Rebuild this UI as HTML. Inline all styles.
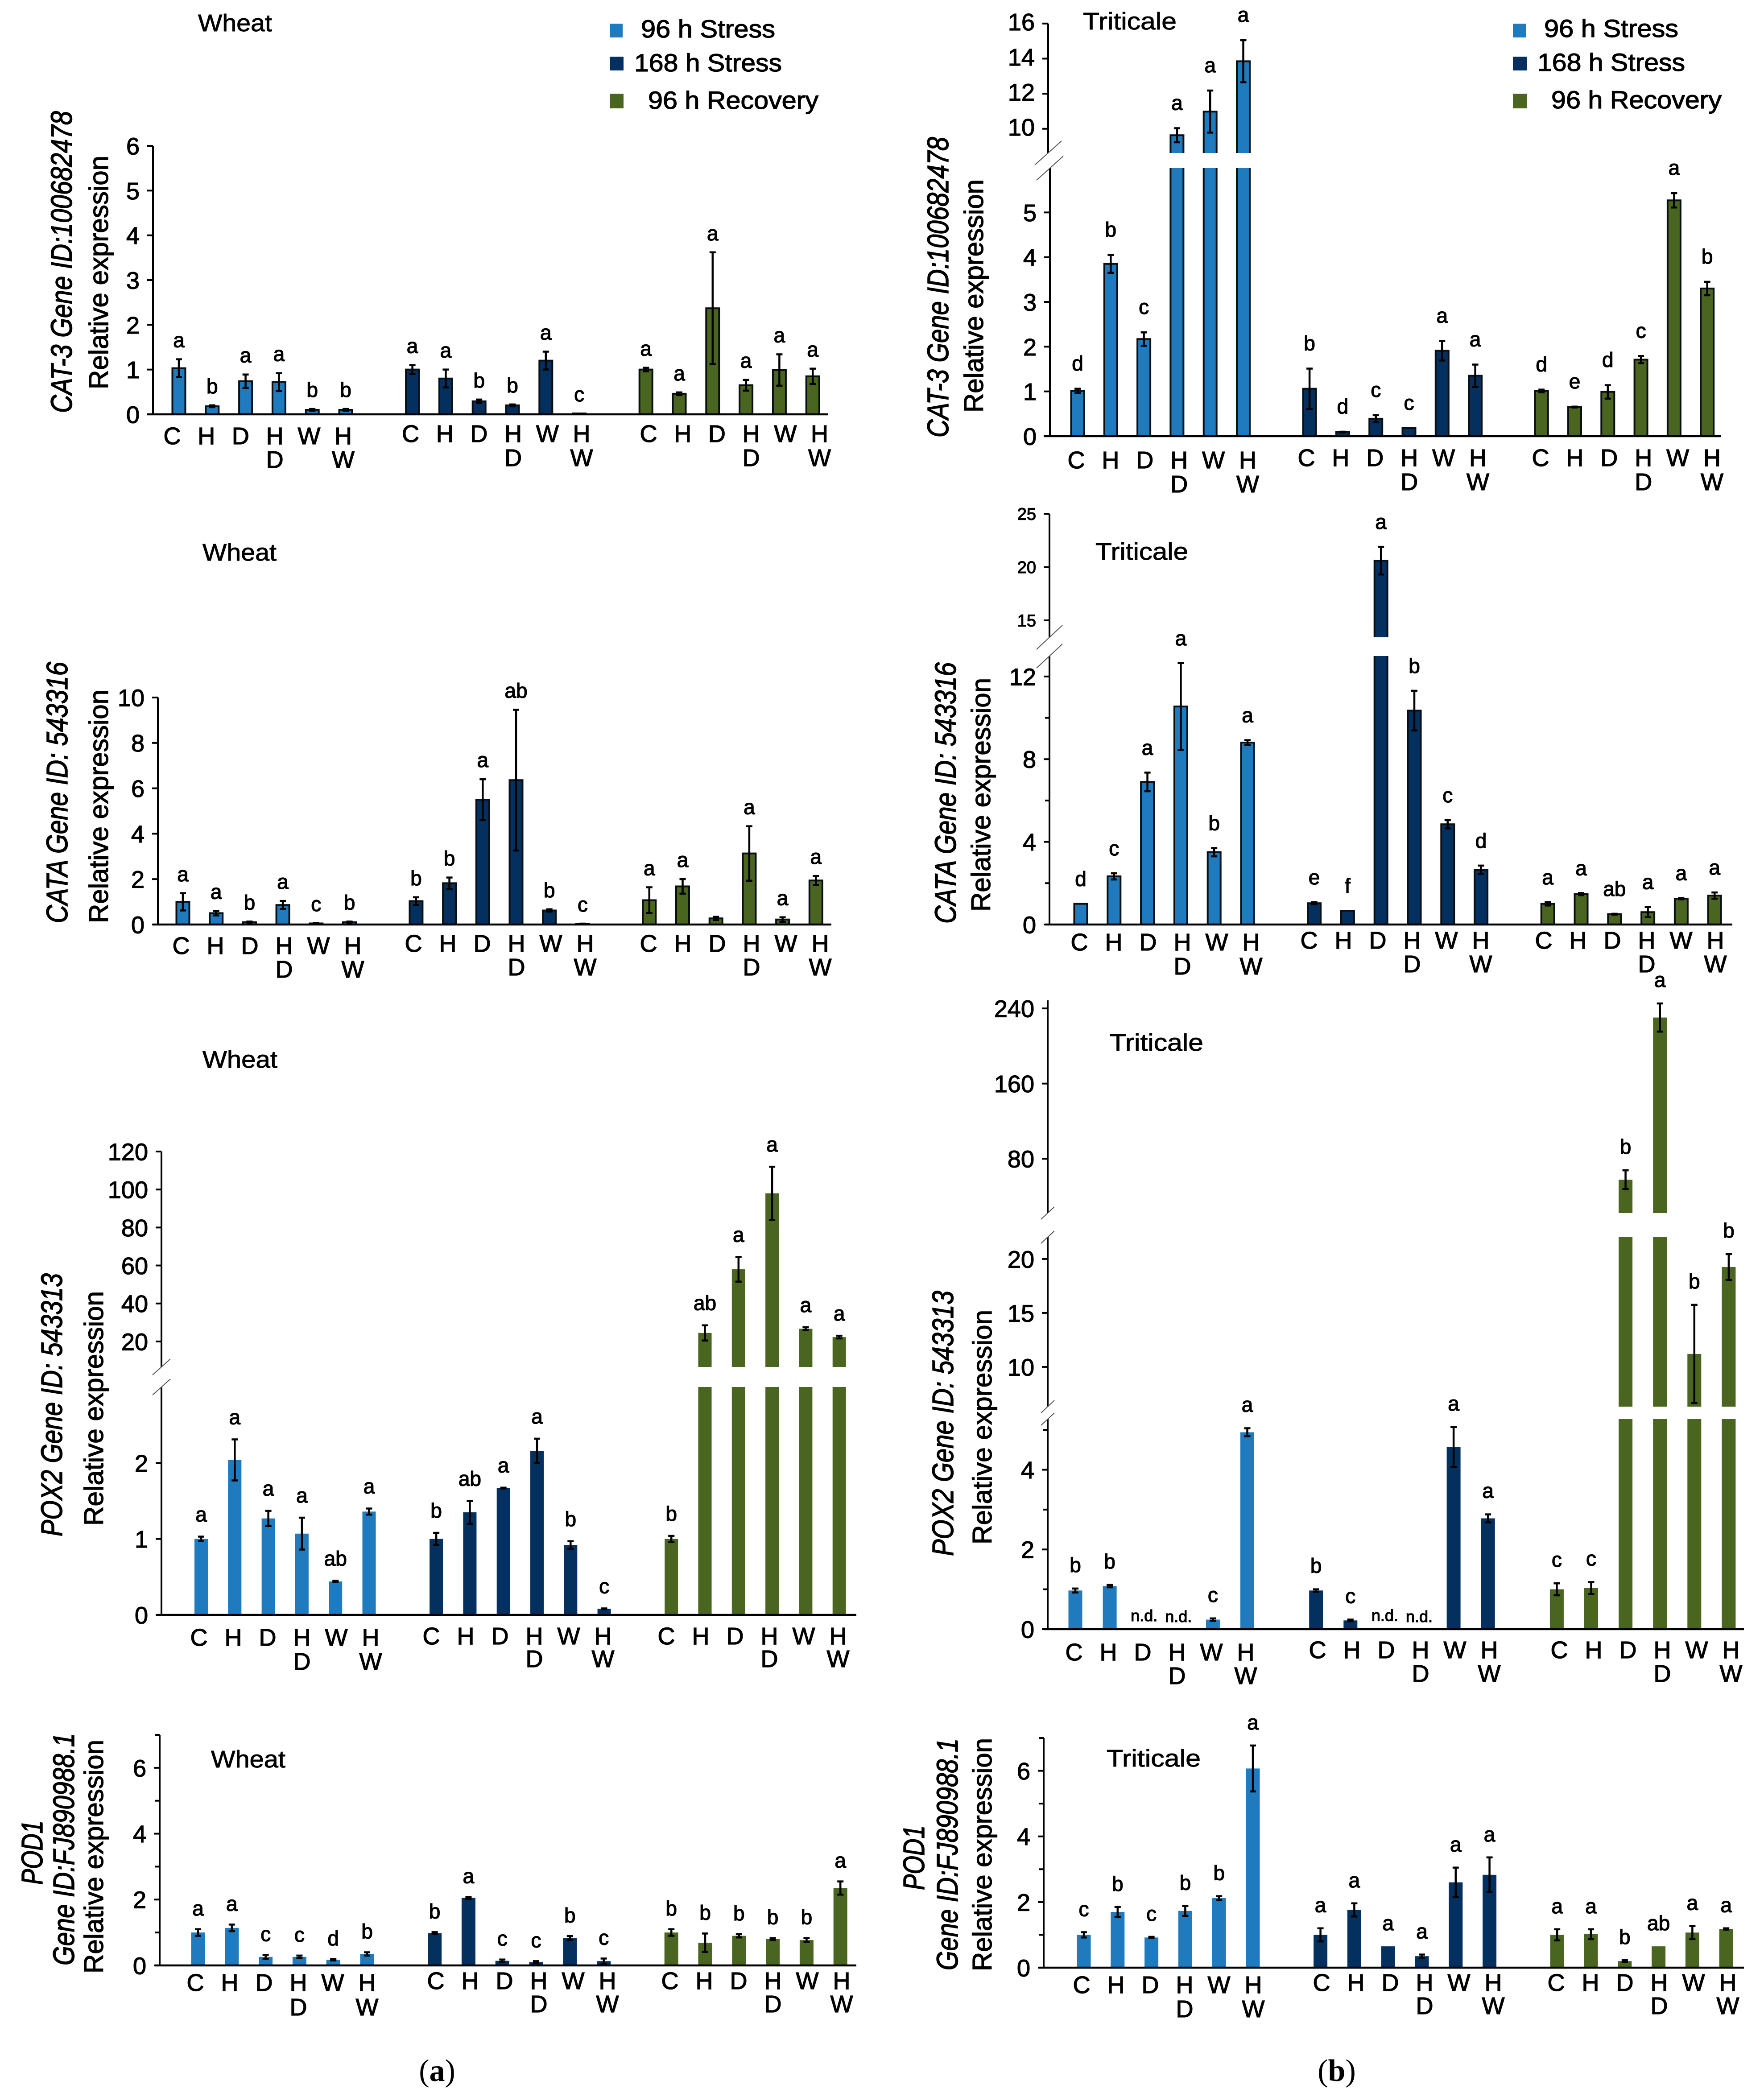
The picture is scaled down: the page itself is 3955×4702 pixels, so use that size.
<!DOCTYPE html>
<html lang="en">
<head>
<meta charset="utf-8">
<title>Relative gene expression in wheat and triticale</title>
<style>
html,body{margin:0;padding:0;background:#fff;}
svg{display:block;}
text{font-family:"Liberation Sans",sans-serif;fill:#000;stroke:#000;stroke-width:1.3px;}
.serif{font-family:"Liberation Serif",serif;stroke:none;}
.gene{font-style:italic;font-size:56px;}
.rel{font-size:60px;}
.title{font-size:54px;stroke-width:.9px;}
.legend{font-size:56px;}
</style>
</head>
<body>
<svg id="chart" xmlns="http://www.w3.org/2000/svg" width="3955" height="4702" viewBox="0 0 3955 4702">
<rect x="0" y="0" width="3955" height="4702" fill="#ffffff"/>

<text class="title" x="444" y="70" textLength="166" lengthAdjust="spacingAndGlyphs">Wheat</text>
<text class="title" x="2428" y="66" textLength="210" lengthAdjust="spacingAndGlyphs">Triticale</text>
<text class="title" x="454" y="1257" textLength="166" lengthAdjust="spacingAndGlyphs">Wheat</text>
<text class="title" x="2456" y="1255" textLength="208" lengthAdjust="spacingAndGlyphs">Triticale</text>
<text class="title" x="454" y="2394" textLength="168" lengthAdjust="spacingAndGlyphs">Wheat</text>
<text class="title" x="2488" y="2356" textLength="210" lengthAdjust="spacingAndGlyphs">Triticale</text>
<text class="title" x="473" y="3963" textLength="167" lengthAdjust="spacingAndGlyphs">Wheat</text>
<text class="title" x="2481" y="3961" textLength="211" lengthAdjust="spacingAndGlyphs">Triticale</text>

<g>
  <rect x="1367" y="53" width="29" height="31" fill="#1f7bbd"/>
  <text class="legend" x="1437" y="84" textLength="301" lengthAdjust="spacingAndGlyphs">96 h Stress</text>
  <rect x="1367" y="127" width="31" height="31" fill="#04305f"/>
  <text class="legend" x="1422" y="160" textLength="331" lengthAdjust="spacingAndGlyphs">168 h Stress</text>
  <rect x="1367" y="210" width="31" height="33" fill="#4a651f"/>
  <text class="legend" x="1453" y="244" textLength="382" lengthAdjust="spacingAndGlyphs">96 h Recovery</text>
</g>
<g>
  <rect x="3392" y="53" width="29" height="31" fill="#1f7bbd"/>
  <text class="legend" x="3462" y="83" textLength="301" lengthAdjust="spacingAndGlyphs">96 h Stress</text>
  <rect x="3392" y="127" width="31" height="31" fill="#04305f"/>
  <text class="legend" x="3447" y="159" textLength="331" lengthAdjust="spacingAndGlyphs">168 h Stress</text>
  <rect x="3392" y="210" width="31" height="33" fill="#4a651f"/>
  <text class="legend" x="3478" y="243" textLength="382" lengthAdjust="spacingAndGlyphs">96 h Recovery</text>
</g>

<text class="gene" transform="translate(161 926) rotate(-90) scale(1 1.2)" textLength="677" lengthAdjust="spacingAndGlyphs">CAT-3 Gene ID:100682478</text>
<text class="rel" transform="translate(242 873) rotate(-90)" textLength="524" lengthAdjust="spacingAndGlyphs">Relative expression</text>
<text class="gene" transform="translate(2126 981) rotate(-90) scale(1 1.2)" textLength="674" lengthAdjust="spacingAndGlyphs">CAT-3 Gene ID:100682478</text>
<text class="rel" transform="translate(2204 925) rotate(-90)" textLength="523" lengthAdjust="spacingAndGlyphs">Relative expression</text>

<text class="gene" transform="translate(151 2070) rotate(-90) scale(1 1.2)" textLength="586" lengthAdjust="spacingAndGlyphs">CATA Gene ID: 543316</text>
<text class="rel" transform="translate(242 2070) rotate(-90)" textLength="524" lengthAdjust="spacingAndGlyphs">Relative expression</text>
<text class="gene" transform="translate(2143 2071) rotate(-90) scale(1 1.2)" textLength="586" lengthAdjust="spacingAndGlyphs">CATA Gene ID: 543316</text>
<text class="rel" transform="translate(2220 2044) rotate(-90)" textLength="524" lengthAdjust="spacingAndGlyphs">Relative expression</text>

<text class="gene" transform="translate(139 3445) rotate(-90) scale(1 1.2)" textLength="590" lengthAdjust="spacingAndGlyphs">POX2 Gene ID: 543313</text>
<text class="rel" transform="translate(231 3421) rotate(-90)" textLength="526" lengthAdjust="spacingAndGlyphs">Relative expression</text>
<text class="gene" transform="translate(2137 3489) rotate(-90) scale(1 1.2)" textLength="595" lengthAdjust="spacingAndGlyphs">POX2 Gene ID: 543313</text>
<text class="rel" transform="translate(2223 3463) rotate(-90)" textLength="526" lengthAdjust="spacingAndGlyphs">Relative expression</text>

<text class="gene" transform="translate(95 4226) rotate(-90) scale(1 1.2)" textLength="144" lengthAdjust="spacingAndGlyphs">POD1</text>
<text class="gene" transform="translate(166 4407) rotate(-90) scale(1 1.2)" textLength="521" lengthAdjust="spacingAndGlyphs">Gene ID:FJ890988.1</text>
<text class="rel" transform="translate(231 4425) rotate(-90)" textLength="524" lengthAdjust="spacingAndGlyphs">Relative expression</text>
<text class="gene" transform="translate(2072 4238) rotate(-90) scale(1 1.2)" textLength="145" lengthAdjust="spacingAndGlyphs">POD1</text>
<text class="gene" transform="translate(2147 4418) rotate(-90) scale(1 1.2)" textLength="520" lengthAdjust="spacingAndGlyphs">Gene ID:FJ890988.1</text>
<text class="rel" transform="translate(2223 4420) rotate(-90)" textLength="523" lengthAdjust="spacingAndGlyphs">Relative expression</text>

<text class="serif" x="980" y="4666" font-size="70" text-anchor="middle">(<tspan font-weight="bold">a</tspan>)</text>
<text class="serif" x="2997" y="4666" font-size="70" text-anchor="middle">(<tspan font-weight="bold">b</tspan>)</text>
</svg>

<script>
// Shared categories and series
const categories = ['C', 'H', 'D', 'HD', 'W', 'HW'];
const seriesNames = ['96 h Stress', '168 h Stress', '96 h Recovery'];

// CAT-3 wheat
const cat3WheatValues = [1.03,0.18,0.74,0.72,0.10,0.10, 1.00,0.80,0.29,0.20,1.20,0.02, 1.00,0.46,2.37,0.65,0.99,0.85];
const cat3WheatErrors = [0.20,0.02,0.15,0.20,0.02,0.02, 0.10,0.20,0.04,0.02,0.20,0.00, 0.04,0.03,1.25,0.12,0.35,0.17];
const cat3WheatLetters = ['a','b','a','a','b','b', 'a','a','b','b','a','c', 'a','a','a','a','a','a'];
const cat3WheatTicks = [0,1,2,3,4,5,6];
const cat3WheatMinor = [];

// CAT-3 triticale
const cat3TriticaleValues = [1.01,3.85,2.17,9.63,10.98,13.85, 1.06,0.09,0.39,0.18,1.91,1.35, 1.01,0.65,0.99,1.71,5.27,3.30];
const cat3TriticaleErrors = [0.05,0.20,0.15,0.40,1.20,1.20, 0.45,0.01,0.08,0.00,0.22,0.25, 0.03,0.01,0.15,0.08,0.16,0.15];
const cat3TriticaleLetters = ['d','b','c','a','a','a', 'b','d','c','c','a','a', 'd','e','d','c','a','b'];
const cat3TriticaleTicks = [0,1,2,3,4,5,10,12,14,16];
const cat3TriticaleMinor = [];

// CATA wheat
const cataWheatValues = [1.00,0.50,0.10,0.86,0.05,0.10, 1.03,1.82,5.50,6.36,0.62,0.03, 1.07,1.68,0.27,3.13,0.22,1.94];
const cataWheatErrors = [0.38,0.10,0.03,0.18,0.01,0.03, 0.17,0.25,0.90,3.10,0.05,0.01, 0.57,0.32,0.07,1.20,0.10,0.20];
const cataWheatLetters = ['a','a','b','a','c','b', 'b','b','a','ab','b','c', 'a','a','','a','a','a'];
const cataWheatTicks = [0,2,4,6,8,10];
const cataWheatMinor = [];

// CATA triticale
const cataTriticaleValues = [1.00,2.33,6.90,10.55,3.50,8.80, 1.03,0.67,20.60,10.35,4.85,2.65, 1.00,1.47,0.50,0.60,1.25,1.40];
const cataTriticaleErrors = [0.00,0.15,0.45,2.10,0.20,0.12, 0.05,0.00,1.30,0.96,0.20,0.20, 0.08,0.05,0.02,0.25,0.03,0.15];
const cataTriticaleLetters = ['d','c','a','a','b','a', 'e','f','a','b','c','d', 'a','a','ab','a','a','a'];
const cataTriticaleTicks = [0,4,8,12,15,20,25];
const cataTriticaleMinor = [2,6,10];

// POX2 wheat
const pox2WheatValues = [1.00,2.04,1.27,1.07,0.44,1.36, 1.00,1.35,1.67,2.16,0.92,0.08, 1.00,24.5,58.0,98.0,26.7,22.3];
const pox2WheatErrors = [0.03,0.27,0.10,0.21,0.01,0.04, 0.08,0.15,0.005,0.16,0.05,0.005, 0.04,4.0,6.5,14.0,0.8,0.7];
const pox2WheatLetters = ['a','a','a','a','ab','a', 'b','ab','a','a','b','c', 'b','ab','a','a','a','a'];
const pox2WheatTicks = [0,1,2,20,40,60,80,100,120];
const pox2WheatMinor = [];

// POX2 triticale
const pox2TriticaleValues = [0.97,1.08,0.02,0,0.24,4.94, 0.97,0.22,0.03,0,4.57,2.78, 1.00,1.03,57.7,230.3,11.2,19.25];
const pox2TriticaleErrors = [0.05,0.03,0,0,0.03,0.10, 0.03,0.02,0,0,0.50,0.10, 0.15,0.15,10.0,15.0,4.55,1.20];
const pox2TriticaleLetters = ['b','b','n.d.','n.d.','c','a', 'b','c','n.d.','n.d.','a','a', 'c','c','b','a','b','b'];
const pox2TriticaleTicks = [0,2,4,10,15,20,80,160,240];
const pox2TriticaleMinor = [1,3,5];

// POD1 wheat
const pod1WheatValues = [1.00,1.14,0.26,0.26,0.17,0.35, 0.98,2.05,0.14,0.10,0.83,0.13, 1.00,0.69,0.90,0.80,0.77,2.35];
const pod1WheatErrors = [0.10,0.10,0.06,0.04,0.02,0.05, 0.03,0.03,0.04,0.03,0.06,0.08, 0.10,0.28,0.05,0.03,0.06,0.20];
const pod1WheatLetters = ['a','a','c','c','d','b', 'b','a','c','c','b','c', 'b','b','b','b','b','a'];
const pod1WheatTicks = [0,2,4,6];
const pod1WheatMinor = [1,3,5,7];

// POD1 triticale
const pod1TriticaleValues = [1.00,1.70,0.92,1.73,2.12,6.07, 1.00,1.76,0.65,0.35,2.60,2.83, 1.00,1.02,0.20,0.65,1.07,1.18];
const pod1TriticaleErrors = [0.08,0.15,0.02,0.15,0.06,0.70, 0.20,0.20,0.00,0.05,0.45,0.53, 0.17,0.15,0.03,0.00,0.20,0.02];
const pod1TriticaleLetters = ['c','b','c','b','b','a', 'a','a','a','a','a','a', 'a','a','b','ab','a','a'];
const pod1TriticaleTicks = [0,2,4,6];
const pod1TriticaleMinor = [1,3,5,7];

const seriesColors = ['#1f7bbd', '#04305f', '#4a651f'];

const panels = [
  {id:'wheat-cat3', values:cat3WheatValues, errors:cat3WheatErrors, letters:cat3WheatLetters, ticks:cat3WheatTicks, minor:cat3WheatMinor,
   axisX:343, xStart:330, xEnd:1857, barX0:401, barStep:74.8, barW:29, outline:true, gap:27, breakDx:0, breakDy:0,
   segments:[{d0:0,d1:6,r0:929,r1:327}], labelStep:76.7,
   labelGroups:[{x:386,y:996,y2:1049},{x:920.5,y:991,y2:1045},{x:1454,y:991,y2:1045}]},
  {id:'triticale-cat3', values:cat3TriticaleValues, errors:cat3TriticaleErrors, letters:cat3TriticaleLetters, ticks:cat3TriticaleTicks, minor:cat3TriticaleMinor,
   axisX:2354, xStart:2340, xEnd:3858, barX0:2416, barStep:74.3, barW:29, outline:true, gap:41, breakDx:30, breakDy:27,
   segments:[{d0:0,d1:5.99,r0:978,r1:377},{d0:8.62,d1:16,r0:343,r1:52.8,dx:-4,labelDy:-4}], labelStep:76.9,
   labelGroups:[{x:2413,y:1050,y2:1104},{x:2929,y:1045,y2:1099},{x:3454,y:1045,y2:1099}]},
  {id:'wheat-cata', values:cataWheatValues, errors:cataWheatErrors, letters:cataWheatLetters, ticks:cataWheatTicks, minor:cataWheatMinor,
   axisX:354, xStart:343, xEnd:1864, barX0:410, barStep:74.7, barW:29, outline:true, gap:27, breakDx:0, breakDy:0,
   segments:[{d0:0,d1:10,r0:2073,r1:1564}], labelStep:77,
   labelGroups:[{x:406,y:2139,y2:2192},{x:927,y:2134,y2:2187},{x:1454,y:2134,y2:2187}]},
  {id:'triticale-cata', values:cataTriticaleValues, errors:cataTriticaleErrors, letters:cataTriticaleLetters, ticks:cataTriticaleTicks, minor:cataTriticaleMinor,
   axisX:2353, xStart:2343, xEnd:3884, barX0:2423, barStep:74.8, barW:29, outline:true, gap:40, breakDx:29, breakDy:27, smallTicksFrom:15,
   segments:[{d0:0,d1:12.99,r0:2073,r1:1471},{d0:13.41,d1:25,r0:1429,r1:1152}], labelStep:77,
   labelGroups:[{x:2420,y:2131,y2:2185},{x:2935,y:2127,y2:2180},{x:3461,y:2127,y2:2180}]},
  {id:'wheat-pox2', values:pox2WheatValues, errors:pox2WheatErrors, letters:pox2WheatLetters, ticks:pox2WheatTicks, minor:pox2WheatMinor,
   axisX:362, xStart:353, xEnd:1920, barX0:451, barStep:75.3, barW:30, outline:false, gap:34, breakDx:20, breakDy:18,
   segments:[{d0:0,d1:3,r0:3621,r1:3110},{d0:6.6,d1:120,r0:3065,r1:2582}], labelStep:77,
   labelGroups:[{x:446,y:3690,y2:3744},{x:967,y:3687,y2:3738},{x:1494,y:3687,y2:3738}]},
  {id:'triticale-pox2', values:pox2TriticaleValues, errors:pox2TriticaleErrors, letters:pox2TriticaleLetters, ticks:pox2TriticaleTicks, minor:pox2TriticaleMinor,
   axisX:2349, xStart:2340, xEnd:3910, barX0:2411, barStep:77.1, barW:31, outline:false, gap:37, breakDx:15, breakDy:14,
   segments:[{d0:0,d1:5.27,r0:3653,r1:3182},{d0:6.32,d1:22.02,r0:3154,r1:2774},{d0:22.2,d1:248.6,r0:2720,r1:2243}], labelStep:77,
   labelGroups:[{x:2408,y:3723,y2:3776},{x:2954,y:3718,y2:3771},{x:3496,y:3718,y2:3771}]},
  {id:'wheat-pod1', values:pod1WheatValues, errors:pod1WheatErrors, letters:pod1WheatLetters, ticks:pod1WheatTicks, minor:pod1WheatMinor,
   axisX:358, xStart:347, xEnd:1920, barX0:444, barStep:75.8, barW:31, outline:false, gap:31, breakDx:0, breakDy:0,
   segments:[{d0:0,d1:7,r0:4407,r1:3890}], labelStep:77,
   labelGroups:[{x:438,y:4464,y2:4519},{x:977,y:4460,y2:4512},{x:1502,y:4460,y2:4512}]},
  {id:'triticale-pod1', values:pod1TriticaleValues, errors:pod1TriticaleErrors, letters:pod1TriticaleLetters, ticks:pod1TriticaleTicks, minor:pod1TriticaleMinor,
   axisX:2340, xStart:2330, xEnd:3910, barX0:2430, barStep:75.8, barW:31, outline:false, gap:36, breakDx:0, breakDy:0,
   segments:[{d0:0,d1:7,r0:4412,r1:3897}], labelStep:77,
   labelGroups:[{x:2425,y:4469,y2:4523},{x:2963,y:4464,y2:4516},{x:3489,y:4464,y2:4516}]}
];

const SVG_NS = 'http://www.w3.org/2000/svg';
const chart = document.getElementById('chart');

function make(parent, tag, props, content) {
  const node = document.createElementNS(SVG_NS, tag);
  Object.keys(props).forEach(function (k) { node.setAttribute(k, props[k]); });
  if (content !== undefined) node.textContent = content;
  parent.appendChild(node);
  return node;
}

// Piecewise-linear value axis across the broken segments
function yScale(segments, v) {
  for (let i = 0; i < segments.length; i++) {
    const s = segments[i];
    if (v <= s.d1 || i === segments.length - 1) {
      const c = Math.max(v, s.d0);
      return s.r0 + (c - s.d0) / (s.d1 - s.d0) * (s.r1 - s.r0);
    }
    const next = segments[i + 1];
    if (v < next.d0) return s.r1;
  }
  return segments[0].r0;
}

function segmentOf(segments, v) {
  for (let i = 0; i < segments.length; i++) {
    if (v <= segments[i].d1) return segments[i];
  }
  return segments[segments.length - 1];
}

// Band axis: each series takes six slots and is followed by one empty slot
function barCenter(p, index) {
  const group = Math.floor(index / 6);
  return p.barX0 + p.barStep * (index + group);
}

function drawPanel(p) {
  const g = make(chart, 'g', {});
  
  

  // bars
  p.values.forEach(function (v, i) {
    const group = Math.floor(i / 6);
    const x = barCenter(p, i);
    p.segments.forEach(function (s, si) {
      if (v <= s.d0) return;
      const yBase = s.r0;
      const yTop = yScale(p.segments, Math.min(v, s.d1));
      const r = make(g, 'rect', {
        x: x - p.barW / 2, y: yTop, width: p.barW, height: yBase - yTop,
        fill: seriesColors[group]
      });
      
      
      if (p.outline) {
        const left = x - p.barW / 2;
        const right = x + p.barW / 2;
        const closedTop = v <= s.d1;
        const d = closedTop
          ? 'M' + left + ' ' + yBase + 'V' + yTop + 'H' + right + 'V' + yBase
          : 'M' + left + ' ' + yBase + 'V' + yTop + 'M' + right + ' ' + yTop + 'V' + yBase;
        const o = make(g, 'path', {d: d, fill: 'none', stroke: '#0a0f14', 'stroke-width': 4});
        
        
      }
    });
  });

  // error bars and significance letters
  p.values.forEach(function (v, i) {
    const x = barCenter(p, i);
    const e = p.errors[i];
    if (e > 0) {
      const yHi = yScale(p.segments, v + e);
      const yLo = yScale(p.segments, v - e);
      const eb = make(g, 'path', {
        d: 'M' + (x - 7) + ' ' + yHi + 'H' + (x + 7) + 'M' + x + ' ' + yHi + 'V' + yLo + 'M' + (x - 7) + ' ' + yLo + 'H' + (x + 7),
        stroke: '#000', 'stroke-width': 4.5, fill: 'none'
      });
      
      
    }
    const letter = p.letters[i];
    if (letter) {
      const nd = letter === 'n.d.';
      const base = yScale(p.segments, v + e) - (nd ? 16 : p.gap);
      const t = make(g, 'text', {x: x, y: base, 'text-anchor': 'middle', 'font-size': nd ? 36 : 46}, letter);
      
      
    }
  });

  // y axis segments
  p.segments.forEach(function (s, si) {
    const sx = p.axisX + (s.dx || 0);
    const ax = make(g, 'line', {x1: sx, x2: sx, y1: s.r0, y2: s.r1, stroke: '#000', 'stroke-width': 4});
    
    
    if (si > 0) {
      const prev = p.segments[si - 1];
      const prevX = p.axisX + (prev.dx || 0);
      const up = make(g, 'line', {x1: sx - p.breakDx, y1: s.r0 + p.breakDy, x2: sx + p.breakDx, y2: s.r0 - p.breakDy, stroke: '#555', 'stroke-width': 2});
      
      
      const low = make(g, 'line', {x1: prevX - p.breakDx, y1: prev.r1 + p.breakDy, x2: prevX + p.breakDx, y2: prev.r1 - p.breakDy, stroke: '#555', 'stroke-width': 2});
      
      
    }
  });

  // major ticks and labels
  p.ticks.forEach(function (tv) {
    const y = yScale(p.segments, tv);
    const seg = segmentOf(p.segments, tv);
    const sx = p.axisX + (seg.dx || 0);
    const tk = make(g, 'line', {x1: sx - 13, x2: sx, y1: y, y2: y, stroke: '#000', 'stroke-width': 4});
    
    
    const small = p.smallTicksFrom !== undefined && tv >= p.smallTicksFrom;
    const size = small ? 38 : 54;
    const lb = make(g, 'text', {x: sx - 30, y: y + size * 0.36 + (seg.labelDy || 0), 'text-anchor': 'end', 'font-size': size}, String(tv));
    
    
  });

  // unlabelled ticks
  p.minor.forEach(function (tv) {
    const y = yScale(p.segments, tv);
    const tk = make(g, 'line', {x1: p.axisX - 10, x2: p.axisX, y1: y, y2: y, stroke: '#000', 'stroke-width': 4});
    
    
  });

  // x axis
  const y0 = p.segments[0].r0;
  const xa = make(g, 'line', {x1: p.xStart, x2: p.xEnd, y1: y0, y2: y0, stroke: '#000', 'stroke-width': 4.5});
  
  

  // category labels (two-letter labels are stacked)
  p.labelGroups.forEach(function (lg) {
    categories.forEach(function (cat, ci) {
      const cx = lg.x + p.labelStep * ci;
      const t1 = make(g, 'text', {x: cx, y: lg.y, 'text-anchor': 'middle', 'font-size': 54}, cat[0]);
      
      
      if (cat.length > 1) {
        const t2 = make(g, 'text', {x: cx, y: lg.y2, 'text-anchor': 'middle', 'font-size': 54}, cat[1]);
        
        
      }
    });
  });
}

panels.forEach(drawPanel);
</script>
</body>
</html>
